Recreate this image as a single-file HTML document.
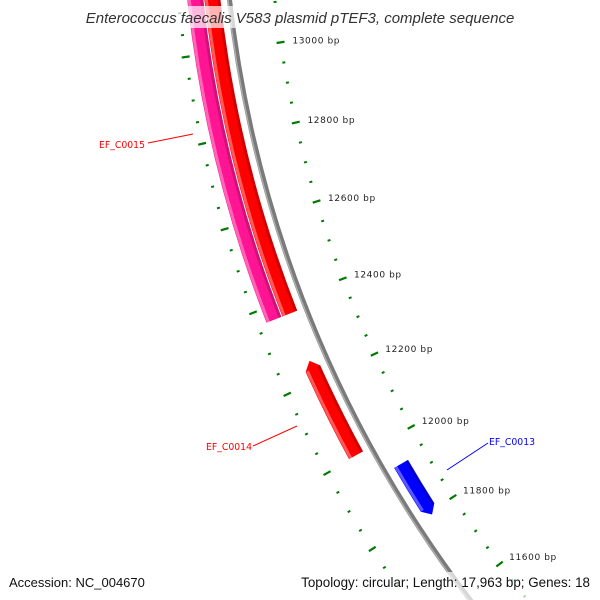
<!DOCTYPE html>
<html><head><meta charset="utf-8">
<style>
html,body{margin:0;padding:0;background:#fff;width:600px;height:600px;overflow:hidden;}
svg{display:block;font-family:"Liberation Sans",sans-serif;overflow:hidden;}
</style></head>
<body>
<svg id="map" width="600" height="600" viewBox="0 0 600 600" xmlns="http://www.w3.org/2000/svg">
<rect width="600" height="600" fill="#fff"/>
<g id="rulers"></g>
<g id="backbone"></g>
<g id="features"></g>
<g id="labels"></g>
<rect x="80" y="6" width="440" height="22" fill="rgba(255,255,255,0.7)"/>
<text x="300" y="23" text-anchor="middle" font-size="15" font-style="italic" fill="#333">Enterococcus faecalis V583 plasmid pTEF3, complete sequence</text>
<rect x="0" y="572" width="600" height="28" fill="rgba(255,255,255,0.7)"/>
<text x="9" y="587" font-size="13" fill="#111">Accession: NC_004670</text>
<text x="590" y="587" text-anchor="end" font-size="13.4" fill="#111">Topology: circular; Length: 17,963 bp; Genes: 18</text>
</svg>
<script>
const seqLength = 17963;
const tickStart = 11400;
const tickEnd = 13400;
const tickStep = 50;
const majorStep = 200;
const geneNames = ["EF_C0015", "EF_C0016", "EF_C0014", "EF_C0013"];
const geneStarts = [12368, 12368, 12004, 11792];
const geneEnds = [13600, 13600, 12249, 11934];
const geneStrands = [1, 1, 1, -1];
const geneColors = ["#ff1493", "#ff0000", "#ff0000", "#0000ff"];

const NS = "http://www.w3.org/2000/svg";
const CX = 1434, CY = -135;
const A0 = 143.2, BP0 = 11600;
function ang(bp){ return A0 + (bp - BP0) * 360 / seqLength; }
function pt(a, r){ const t = a * Math.PI / 180; return [CX + r * Math.cos(t), CY + r * Math.sin(t)]; }
function mk(tag, attrs, parent){ const e = document.createElementNS(NS, tag); for (const k in attrs) e.setAttribute(k, attrs[k]); parent.appendChild(e); return e; }

const rulers = document.getElementById('rulers');
for (let bp = tickStart; bp <= tickEnd; bp += tickStep) {
  const a = ang(bp);
  const major = bp % majorStep === 0;
  const len = major ? 8 : 3;
  let p1 = pt(a, 1167 - len / 2), p2 = pt(a, 1167 + len / 2);
  const t1 = mk('line', {x1:p1[0], y1:p1[1], x2:p2[0], y2:p2[1], stroke:'#007a00', 'stroke-width': major ? 2.2 : 2}, rulers);
  
  
  p1 = pt(a, 1263 - len / 2); p2 = pt(a, 1263 + len / 2);
  const t2 = mk('line', {x1:p1[0], y1:p1[1], x2:p2[0], y2:p2[1], stroke:'#007a00', 'stroke-width': major ? 2.2 : 2}, rulers);
  
  
  if (major) {
    const lp = pt(a, 1155);
    const tx = mk('text', {x:lp[0], y:lp[1] + 3, 'font-size':9, 'letter-spacing':0.6, fill:'#222', 'font-family':'"DejaVu Sans", sans-serif'}, rulers);
    tx.textContent = bp + ' bp';
    
    
  }
}

const bb = document.getElementById('backbone');
function arcPath(a1, a2, r){ const p = pt(a1, r), q = pt(a2, r); return `M${p[0]},${p[1]} A${r},${r} 0 0 1 ${q[0]},${q[1]}`; }
const bbo = mk('path', {d: arcPath(137, 177, 1212), fill:'none', stroke:'#7a7a7a', 'stroke-width':5}, bb);


const bbh = mk('path', {d: arcPath(137, 177, 1213.5), fill:'none', stroke:'#b0b0b0', 'stroke-width':1.3}, bb);



const fg = document.getElementById('features');
for (let i = 0; i < geneNames.length; i++) {
  const s = geneStrands[i];
  const rc = s === 1 ? (i === 0 ? 1246 : 1229) : 1194;
  const w = 16, ri = rc - w / 2, ro = rc + w / 2;
  const a1 = ang(geneStarts[i]), a2 = ang(geneEnds[i]);
  const tip = 0.4;
  const P = (a, r) => pt(a, r).join(',');
  let d;
  if (s === 1) {
    d = `M${P(a1, ri)} A${ri},${ri} 0 0 1 ${P(a2 - tip, ri)} L${P(a2, rc)} L${P(a2 - tip, ro)} A${ro},${ro} 0 0 0 ${P(a1, ro)} Z`;
  } else {
    d = `M${P(a1 + tip, ri)} A${ri},${ri} 0 0 1 ${P(a2, ri)} L${P(a2, ro)} A${ro},${ro} 0 0 0 ${P(a1 + tip, ro)} L${P(a1, rc)} Z`;
  }
  const f = mk('path', {d: d, fill: geneColors[i]}, fg);
  
  
  const hl = mk('path', {d: arcPath(a1 + (s === -1 ? tip : 0), a2 - (s === 1 ? tip : 0), ro - 2), fill:'none', stroke:'rgba(255,255,255,0.35)', 'stroke-width':3}, fg);
  
  
  const sh = mk('path', {d: arcPath(a1 + (s === -1 ? tip : 0), a2 - (s === 1 ? tip : 0), ri + 1.5), fill:'none', stroke:'rgba(0,0,0,0.18)', 'stroke-width':3}, fg);
  
  
}

const lg = document.getElementById('labels');
function addLabel(name, color, x1, y1, x2, y2, tx, ty, anchor) {
  const l = mk('line', {x1:x1, y1:y1, x2:x2, y2:y2, stroke:color, 'stroke-width':1}, lg);
  
  
  const t = mk('text', {x:tx, y:ty, 'font-size':9.3, fill:color, 'text-anchor':anchor, 'font-family':'"DejaVu Sans", sans-serif'}, lg);
  t.textContent = name;
  
  
}
addLabel('EF_C0015', '#ff0000', 148, 143, 193, 134, 145, 148, 'end');
addLabel('EF_C0014', '#ff0000', 253, 446, 297, 426, 252, 450, 'end');
addLabel('EF_C0013', '#0000ff', 447, 470, 488, 443, 489, 445, 'start');
</script>
</body></html>
